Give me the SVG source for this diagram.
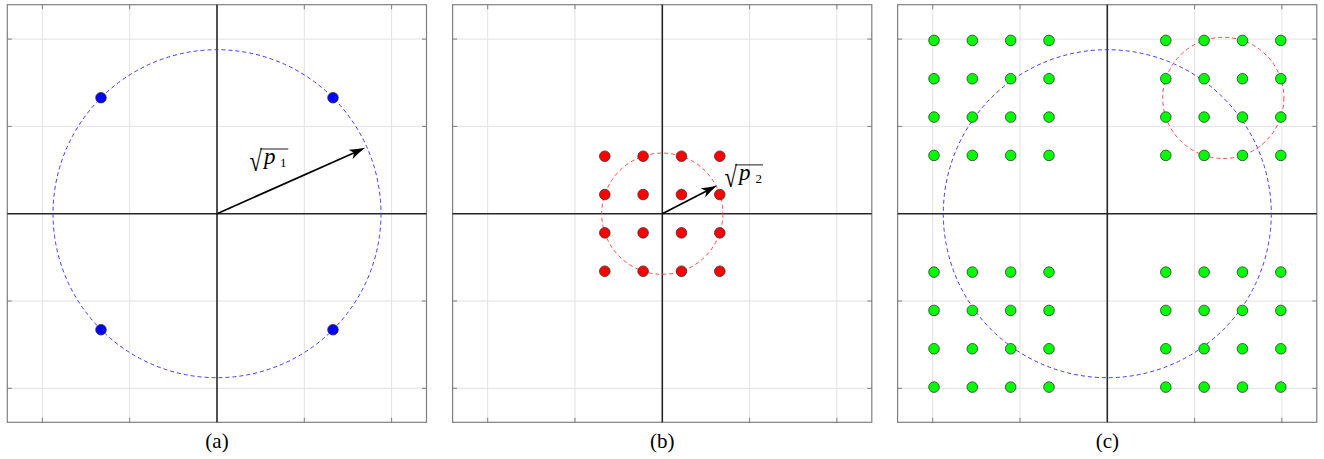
<svg xmlns="http://www.w3.org/2000/svg" xmlns:xlink="http://www.w3.org/1999/xlink" width="1324" height="459" viewBox="0 0 1324 459">
<style>
  .grid { stroke: #e2e2e2; stroke-width: 1; fill: none; }
  .box { stroke: #7f7f7f; stroke-width: 1.2; fill: none; }
  .tick { stroke: #7f7f7f; stroke-width: 1; }
  .axis { stroke: #262626; stroke-width: 1.6; }
  .bcirc { stroke: #3c3cff; stroke-width: 1; fill: none; stroke-dasharray: 4 3; }
  .rcirc { stroke: #ff4a4a; stroke-width: 1; fill: none; stroke-dasharray: 4 3; }
  .dot { stroke: #333333; stroke-width: 0.8; }
  .arrow { stroke: #000000; stroke-width: 1.7; fill: none; marker-end: url(#stealth); }
  .cap { font-family: "Liberation Serif", serif; font-size: 21px; fill: #000; text-anchor: middle; }
  .rad { font-family: "Liberation Serif", serif; font-size: 29px; fill: #000; }
  .mi { font-family: "Liberation Serif", serif; font-size: 23px; font-style: italic; fill: #000; }
  .sub { font-family: "Liberation Serif", serif; font-size: 13px; fill: #000; }
  .vinc { stroke: #000; stroke-width: 0.9; }
</style>
<defs>
  <marker id="stealth" viewBox="0 0 16 10" refX="9" refY="5" markerWidth="16" markerHeight="10" markerUnits="userSpaceOnUse" orient="auto">
    <path d="M0,0 Q8,3 16,5 Q8,7 0,10 L4,5 Z" fill="#000"/>
  </marker>
  <g id="frame">
    <line class="grid" x1="-174.6" y1="-209" x2="-174.6" y2="208.6"/>
    <line class="grid" x1="-87.3" y1="-209" x2="-87.3" y2="208.6"/>
    <line class="grid" x1="87.3" y1="-209" x2="87.3" y2="208.6"/>
    <line class="grid" x1="174.6" y1="-209" x2="174.6" y2="208.6"/>
    <line class="grid" x1="-209.7" y1="-174.6" x2="209.5" y2="-174.6"/>
    <line class="grid" x1="-209.7" y1="-87.3" x2="209.5" y2="-87.3"/>
    <line class="grid" x1="-209.7" y1="87.3" x2="209.5" y2="87.3"/>
    <line class="grid" x1="-209.7" y1="174.6" x2="209.5" y2="174.6"/>
    <path class="tick" d="M-174.6,-209 v4.5 M-87.3,-209 v4.5 M87.3,-209 v4.5 M174.6,-209 v4.5 M-174.6,208.6 v-4.5 M-87.3,208.6 v-4.5 M87.3,208.6 v-4.5 M174.6,208.6 v-4.5 M-209.7,-174.6 h4.5 M-209.7,-87.3 h4.5 M-209.7,87.3 h4.5 M-209.7,174.6 h4.5 M209.5,-174.6 h-4.5 M209.5,-87.3 h-4.5 M209.5,87.3 h-4.5 M209.5,174.6 h-4.5"/>
    <rect class="box" x="-209.7" y="-209" width="419.2" height="417.6"/>
    <line class="axis" x1="-209.7" y1="0" x2="209.5" y2="0"/>
    <line class="axis" x1="0" y1="-209" x2="0" y2="208.6"/>
  </g>
  <g id="qam16">
    <circle class="dot" cx="-57.5" cy="-57.5" r="5.3"/>
    <circle class="dot" cx="-19.17" cy="-57.5" r="5.3"/>
    <circle class="dot" cx="19.17" cy="-57.5" r="5.3"/>
    <circle class="dot" cx="57.5" cy="-57.5" r="5.3"/>
    <circle class="dot" cx="-57.5" cy="-19.17" r="5.3"/>
    <circle class="dot" cx="-19.17" cy="-19.17" r="5.3"/>
    <circle class="dot" cx="19.17" cy="-19.17" r="5.3"/>
    <circle class="dot" cx="57.5" cy="-19.17" r="5.3"/>
    <circle class="dot" cx="-57.5" cy="19.17" r="5.3"/>
    <circle class="dot" cx="-19.17" cy="19.17" r="5.3"/>
    <circle class="dot" cx="19.17" cy="19.17" r="5.3"/>
    <circle class="dot" cx="57.5" cy="19.17" r="5.3"/>
    <circle class="dot" cx="-57.5" cy="57.5" r="5.3"/>
    <circle class="dot" cx="-19.17" cy="57.5" r="5.3"/>
    <circle class="dot" cx="19.17" cy="57.5" r="5.3"/>
    <circle class="dot" cx="57.5" cy="57.5" r="5.3"/>
  </g>
</defs>
<rect x="0" y="0" width="1324" height="459" fill="#ffffff"/>

<g id="panel-a">
  <use xlink:href="#frame" href="#frame" transform="translate(217,213.7)"/>
  <circle class="bcirc" cx="217" cy="213.7" r="164"/>
  <g id="a-points" fill="#0000ff">
    <circle class="dot" cx="101" cy="97.7" r="5.3"/>
    <circle class="dot" cx="333" cy="97.7" r="5.3"/>
    <circle class="dot" cx="101" cy="329.7" r="5.3"/>
    <circle class="dot" cx="333" cy="329.7" r="5.3"/>
  </g>
  <g id="a-label">
    <text class="rad" transform="translate(249.5,171.3) scale(0.78,1)" x="0" y="0">√</text>
    <line class="vinc" x1="260" y1="149" x2="288.3" y2="149"/>
    <text class="mi" x="264" y="164">p</text>
    <text class="sub" x="280" y="167.3">1</text>
  </g>
  <text class="cap" x="217" y="448">(a)</text>
</g>

<g id="panel-b">
  <use xlink:href="#frame" href="#frame" transform="translate(662.3,213.7)"/>
  <circle class="rcirc" cx="662.3" cy="213.7" r="60.6"/>
  <use xlink:href="#qam16" href="#qam16" transform="translate(662.3,213.7)" fill="#ff0000"/>
  <g id="b-label">
    <text class="rad" transform="translate(724.5,186.5) scale(0.78,1)" x="0" y="0">√</text>
    <line class="vinc" x1="735" y1="164.9" x2="763" y2="164.9"/>
    <text class="mi" x="739" y="179.5">p</text>
    <text class="sub" x="755.5" y="182.5">2</text>
  </g>
  <text class="cap" x="662.3" y="448">(b)</text>
</g>

<g id="panel-c">
  <use xlink:href="#frame" href="#frame" transform="translate(1107.3,213.7)"/>
  <circle class="bcirc" cx="1107.3" cy="213.7" r="164"/>
  <circle class="rcirc" cx="1223.3" cy="97.9" r="60.6"/>
  <use xlink:href="#qam16" href="#qam16" transform="translate(991.5,97.9)" fill="#00ff00"/>
  <use xlink:href="#qam16" href="#qam16" transform="translate(1223.3,97.9)" fill="#00ff00"/>
  <use xlink:href="#qam16" href="#qam16" transform="translate(991.5,329.6)" fill="#00ff00"/>
  <use xlink:href="#qam16" href="#qam16" transform="translate(1223.3,329.6)" fill="#00ff00"/>
  <text class="cap" x="1107.3" y="448">(c)</text>
</g>

<g id="connectors">
  <line class="arrow" x1="217" y1="213.7" x2="358.8" y2="150.7"/>
  <line class="arrow" x1="662.3" y1="213.7" x2="710.9" y2="188.7"/>
</g>
</svg>
